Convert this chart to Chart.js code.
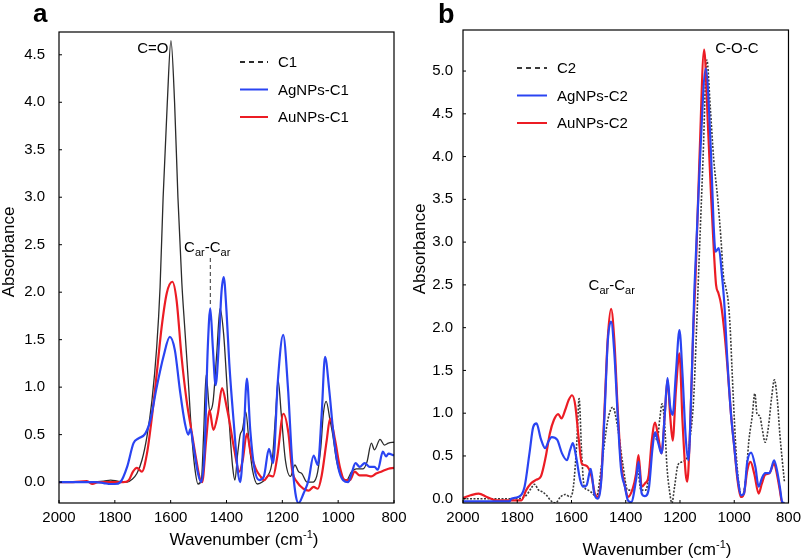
<!DOCTYPE html>
<html lang="en">
<head>
<meta charset="UTF-8">
<title>FTIR spectra</title>
<script src="https://cdn.jsdelivr.net/npm/chart.js@4.4.1/dist/chart.umd.min.js"></script>
<style>
    body { margin: 0; background: #fff; font-family: 'Liberation Sans', Arial, sans-serif; }
    .wrap { position: relative; width: 807px; height: 560px; overflow: hidden; }
    #chartA { position: absolute; left: 0; top: 0; }
    #chartB { position: absolute; left: 400px; top: 0; }
    .tag { position: absolute; font-weight: bold; line-height: 1; }
</style>
</head>
<body>
<div class="wrap">
    <canvas id="chartA" width="420" height="560"></canvas>
    <canvas id="chartB" width="407" height="560"></canvas>
    <div class="tag" style="left:33px; top:0px; font-size:26px;">a</div>
    <div class="tag" style="left:438px; top:1px; font-size:27px;">b</div>
</div>
<script>
// ---- data (wavenumber in cm-1, absorbance) ----
const waveTicks = [2000, 1800, 1600, 1400, 1200, 1000, 800];
const absTicksA = [0, 0.5, 1.0, 1.5, 2.0, 2.5, 3.0, 3.5, 4.0, 4.5];
const absTicksB = [0, 0.5, 1.0, 1.5, 2.0, 2.5, 3.0, 3.5, 4.0, 4.5, 5.0];

// panel a
const c1Wave = [2000,1900,1840,1815,1790,1756,1738,1721,1703,1685,1667,1650,1638,1627,1612,1599,1586,1574,1560,1549,1537,1526,1514,1502,1490,1482,1473,1460,1448,1435,1423,1410,1400,1390,1378,1370,1360,1351,1343,1331,1319,1307,1289,1272,1254,1236,1224,1215,1204,1189,1171,1155,1142,1130,1112,1094,1077,1062,1053,1043,1029,1020,1006,988,970,952,935,911,897,881,870,850,834,820,800];
const c1Abs  = [0,0,0.01,0.02,0.01,0,0.03,0.09,0.23,0.48,0.86,1.42,2.05,3.0,4.0,4.65,4.0,3.0,2.1,1.6,1.07,0.55,0.16,-0.02,0.02,0.5,1.13,0.75,0.85,1.35,1.83,1.55,1.1,0.62,0.16,0.02,0.3,0.5,0.55,0.74,0.41,0.13,-0.02,0,0.06,0.23,0.72,1.07,0.72,0.23,0.06,0.18,0.11,0.09,0,0,0.06,0.37,0.72,0.85,0.65,0.51,0.23,0.06,0.02,0.11,0.14,0.14,0.21,0.41,0.34,0.45,0.39,0.41,0.42];

const ag1Wave = [2000,1950,1900,1870,1840,1815,1800,1780,1756,1733,1715,1691,1673,1650,1626,1603,1585,1567,1549,1537,1529,1520,1502,1490,1478,1467,1458,1449,1439,1428,1418,1410,1400,1390,1372,1360,1351,1339,1327,1315,1301,1283,1266,1248,1233,1216,1197,1180,1165,1153,1142,1124,1106,1088,1073,1059,1047,1032,1017,1000,982,964,952,938,923,905,887,870,858,840,828,820,800];
const ag1Abs  = [0,0,0,0,-0.01,-0.02,-0.02,0,0.16,0.41,0.46,0.51,0.65,1.0,1.32,1.53,1.39,0.97,0.62,0.5,0.56,0.41,0.09,0,0.37,1.42,1.83,1.42,1.02,1.42,2.0,2.16,1.8,1.25,0.55,0.13,0,0.44,1.09,0.55,0.16,0.02,0.06,0.35,0.2,1.07,1.55,1.0,0.23,-0.12,-0.22,-0.12,0.02,0.28,0.18,0.72,1.32,0.97,0.51,0.16,0.02,0,0.09,0.2,0.16,0.2,0.16,0.16,0.13,0.32,0.27,0.3,0.28];

const au1Wave = [2000,1950,1900,1880,1860,1840,1800,1770,1750,1735,1721,1703,1685,1667,1650,1632,1614,1594,1579,1561,1543,1526,1508,1494,1487,1473,1461,1447,1431,1416,1400,1390,1372,1354,1342,1327,1313,1295,1278,1266,1248,1233,1218,1196,1178,1165,1147,1124,1106,1088,1073,1059,1041,1029,1011,994,976,958,941,923,899,881,864,846,820,800];
const au1Abs  = [0,0,0.01,-0.02,0,0,0,0,0.02,0.11,0.15,0.11,0.3,0.69,1.14,1.64,1.99,2.11,1.92,1.32,0.86,0.55,0.23,0.02,0,0.44,0.76,0.55,0.72,0.99,0.8,0.65,0.34,0.11,0.23,0.51,0.3,0.14,0.06,0.02,0.07,0.06,0.27,0.72,0.51,0.13,0,-0.07,-0.09,-0.05,-0.07,0.07,0.44,0.67,0.44,0.16,0.02,0.02,0.11,0.07,0.07,0.06,0.09,0.11,0.14,0.15];

// panel b
const c2Wave = [2000,1900,1800,1767,1749,1737,1721,1707,1692,1677,1659,1641,1623,1605,1593,1580,1572,1562,1553,1538,1522,1508,1490,1466,1448,1430,1411,1393,1374,1356,1344,1326,1308,1296,1284,1275,1266,1256,1248,1239,1230,1220,1208,1193,1181,1172,1163,1150,1140,1133,1115,1101,1088,1076,1061,1049,1040,1031,1022,1015,1008,1000,990,972,958,946,934,924,916,906,898,886,874,862,852,841,832,823,815];
const c2Abs  = [0,0,0,0.04,0.12,0.17,0.1,0.08,0.04,-0.02,-0.05,0.02,0.05,0.02,0.14,0.68,1.17,0.49,0.14,0.1,0.06,0.02,0.37,0.92,1.07,0.84,0.41,0.1,0.1,0.33,0.1,0.1,0.45,0.76,0.68,0.92,1.11,0.84,0.37,0.1,-0.05,0.14,0.39,0.43,0.45,0.5,0.7,1.15,1.9,2.5,3.98,5.13,4.56,3.98,3.51,3.04,2.61,2.47,2.3,2.0,1.5,0.95,0.4,0.02,0.22,0.68,0.96,1.23,0.99,0.97,0.84,0.66,0.84,1.19,1.39,1.15,0.76,0.45,0.2];

const ag2Wave = [2000,1950,1900,1860,1828,1822,1797,1773,1755,1741,1729,1713,1697,1685,1673,1653,1635,1617,1605,1595,1583,1568,1556,1544,1529,1516,1504,1490,1478,1466,1454,1442,1430,1418,1403,1392,1380,1362,1353,1341,1329,1314,1302,1292,1280,1268,1256,1246,1236,1227,1215,1202,1191,1179,1169,1157,1147,1126,1105,1085,1076,1069,1057,1045,1037,1025,1012,1000,988,974,964,952,938,922,910,898,886,870,853,841,832,823,815];
const ag2Abs  = [-0.03,-0.03,-0.03,-0.03,-0.03,0,0.02,0.14,0.53,0.84,0.88,0.7,0.59,0.67,0.72,0.69,0.53,0.45,0.57,0.65,0.49,0.22,0.14,0.16,0.35,0.06,0,0.22,0.99,1.85,2.07,1.7,0.99,0.37,0.14,-0.02,-0.04,0.22,0.43,0.06,0.03,0.14,0.57,0.78,0.65,0.53,0.99,1.41,1.07,0.98,1.47,1.97,1.47,0.72,0.45,1.39,2.44,3.98,5.03,3.98,3.2,2.89,2.93,2.6,2.3,1.6,0.99,0.61,0.26,0.04,0.06,0.43,0.54,0.37,0.14,0.24,0.3,0.3,0.45,0.31,0.14,-0.04,-0.05];

const au2Wave = [2000,1972,1942,1912,1876,1828,1785,1767,1749,1731,1713,1695,1680,1665,1649,1637,1623,1611,1598,1586,1574,1562,1548,1536,1526,1514,1502,1490,1478,1466,1454,1442,1430,1418,1400,1392,1374,1362,1353,1341,1329,1316,1304,1292,1280,1268,1256,1246,1236,1227,1215,1202,1191,1179,1173,1163,1151,1143,1128,1111,1097,1085,1075,1067,1058,1049,1037,1025,1012,1000,988,976,964,952,940,926,910,898,886,870,853,841,832,823,815];
const au2Abs  = [0.01,0.04,0.06,0.02,-0.02,-0.02,-0.02,0.1,0.18,0.22,0.26,0.49,0.76,0.92,0.99,0.94,1.04,1.15,1.21,1.09,0.72,0.41,0.39,0.35,0.26,0.06,0.02,0.26,1.07,1.89,2.22,1.85,1.07,0.45,0.1,0.02,0.12,0.29,0.51,0.14,0.18,0.26,0.68,0.89,0.72,0.53,0.99,1.39,0.96,0.68,1.27,1.7,0.92,0.29,0.2,0.8,1.97,2.56,4.0,5.25,4.37,3.51,2.89,2.5,2.4,2.28,1.97,1.54,0.99,0.61,0.22,0.02,0.06,0.33,0.43,0.29,0.06,0.18,0.28,0.3,0.41,0.26,0.1,-0.05,-0.05];

const BLUE = '#2a44f2';
const RED = '#ec1c24';
const FONT = "'Liberation Sans', Arial, sans-serif";

Chart.defaults.font.family = FONT;
Chart.defaults.color = '#000';

function pts(wave, abs) {
    return wave.map((w, i) => ({ x: w, y: abs[i] }));
}

// draws a run of [text, size, dy] pieces left to right
function drawRuns(ctx, parts, x, y) {
    parts.forEach(([t, size, dy]) => {
        ctx.font = size + 'px ' + FONT;
        ctx.fillText(t, x, y + dy);
        x += ctx.measureText(t).width;
    });
}
function runsWidth(ctx, parts) {
    let w = 0;
    parts.forEach(([t, size]) => { ctx.font = size + 'px ' + FONT; w += ctx.measureText(t).width; });
    return w;
}

const carParts = [['C', 15, 0], ['ar', 11, 4], ['-C', 15, 0], ['ar', 11, 4]];
const xTitleParts = [['Wavenumber (cm', 17, 0], ['-1', 11, -7], [')', 17, 0]];

// frame, inner ticks, axis titles, legend and peak labels
const decorPlugin = {
    id: 'decor',
    afterDraw(chart, args, opts) {
        const { ctx, chartArea: a, scales } = chart;
        const xs = scales.x, ys = scales.y;
        ctx.save();
        ctx.strokeStyle = '#000';
        ctx.lineWidth = 1.2;
        ctx.strokeRect(a.left, a.top, a.right - a.left, a.bottom - a.top);

        ctx.lineWidth = 1;
        xs.ticks.forEach(t => {
            const px = xs.getPixelForValue(t.value);
            ctx.beginPath(); ctx.moveTo(px, a.bottom); ctx.lineTo(px, a.bottom - 3); ctx.stroke();
        });
        ys.ticks.forEach(t => {
            const py = ys.getPixelForValue(t.value);
            ctx.beginPath(); ctx.moveTo(a.left, py); ctx.lineTo(a.left + 3, py); ctx.stroke();
        });

        ctx.fillStyle = '#000';

        // axis titles
        ctx.textAlign = 'left';
        ctx.textBaseline = 'alphabetic';
        const xt = opts.xTitle;
        drawRuns(ctx, xTitleParts, xt.cx - runsWidth(ctx, xTitleParts) / 2, xt.base);
        const yt = opts.yTitle;
        ctx.save();
        ctx.translate(yt.cx, yt.cy);
        ctx.rotate(-Math.PI / 2);
        ctx.font = '17px ' + FONT;
        ctx.textAlign = 'center';
        ctx.textBaseline = 'middle';
        ctx.fillText('Absorbance', 0, 0);
        ctx.restore();

        // legend
        const lg = opts.legend;
        ctx.textBaseline = 'middle';
        ctx.textAlign = 'left';
        chart.data.datasets.forEach((ds, i) => {
            const y = lg.y + i * lg.gap;
            ctx.strokeStyle = ds.borderColor;
            ctx.lineWidth = ds.legendWidth || 2;
            ctx.setLineDash(ds.legendDash || []);
            ctx.beginPath(); ctx.moveTo(lg.x, y); ctx.lineTo(lg.x + lg.len, y); ctx.stroke();
            ctx.setLineDash([]);
            ctx.font = '15px ' + FONT;
            ctx.fillText(ds.label, lg.x + lg.len + 10, y + 1);
        });

        // peak labels
        ctx.textBaseline = 'alphabetic';
        opts.notes.forEach(n => {
            const px = xs.getPixelForValue(n.wave);
            if (n.kind === 'text') {
                ctx.font = '15px ' + FONT;
                ctx.fillText(n.text, px, ys.getPixelForValue(n.abs));
            } else if (n.kind === 'car') {
                drawRuns(ctx, carParts, px, ys.getPixelForValue(n.abs));
            } else if (n.kind === 'vline') {
                ctx.strokeStyle = '#333';
                ctx.lineWidth = 1;
                ctx.setLineDash([4, 3]);
                ctx.beginPath();
                ctx.moveTo(px, ys.getPixelForValue(n.from));
                ctx.lineTo(px, ys.getPixelForValue(n.to));
                ctx.stroke();
                ctx.setLineDash([]);
            }
        });
        ctx.restore();
    }
};

function makePanel(canvasId, datasets, cfg) {
    return new Chart(document.getElementById(canvasId), {
        type: 'line',
        data: { datasets: datasets },
        options: {
            responsive: false,
            animation: false,
            events: [],
            layout: { padding: cfg.padding },
            elements: { point: { radius: 0 }, line: { cubicInterpolationMode: 'monotone' } },
            plugins: {
                legend: { display: false },
                tooltip: { enabled: false },
                decor: { legend: cfg.legend, notes: cfg.notes, xTitle: cfg.xTitle, yTitle: cfg.yTitle }
            },
            scales: {
                x: {
                    type: 'linear', reverse: true, min: 800, max: 2000,
                    afterBuildTicks: s => { s.ticks = waveTicks.map(v => ({ value: v })); },
                    afterFit: s => { s.height = 57; },
                    grid: { display: false, drawTicks: false },
                    border: { display: false },
                    ticks: { font: { size: 15 }, padding: 6, maxRotation: 0, autoSkip: false, callback: v => String(v) }
                },
                y: {
                    type: 'linear', min: cfg.yMin, max: cfg.yMax,
                    afterBuildTicks: s => { s.ticks = cfg.yTicks.map(v => ({ value: v })); },
                    afterFit: s => { s.width = cfg.yWidth; },
                    grid: { display: false, drawTicks: false },
                    border: { display: false },
                    ticks: { font: { size: 15 }, padding: cfg.yPad, autoSkip: false, callback: v => v.toFixed(1) }
                }
            }
        },
        plugins: [decorPlugin]
    });
}

makePanel('chartA', [
    { label: 'C1', data: pts(c1Wave, c1Abs), borderColor: '#2b2b2b', borderWidth: 1.3, order: 3, legendDash: [5, 4], legendWidth: 2 },
    { label: 'AgNPs-C1', data: pts(ag1Wave, ag1Abs), borderColor: BLUE, borderWidth: 2.2, order: 1 },
    { label: 'AuNPs-C1', data: pts(au1Wave, au1Abs), borderColor: RED, borderWidth: 2.2, order: 2 }
], {
    padding: { left: 0, top: 32, right: 26, bottom: 0 },
    yMin: -0.22, yMax: 4.74, yTicks: absTicksA, yWidth: 59, yPad: 14,
    xTitle: { cx: 244, base: 545 },
    yTitle: { cx: 9, cy: 252 },
    legend: { x: 240, y: 62, gap: 27.5, len: 28 },
    notes: [
        { kind: 'text', text: 'C=O', wave: 1720, abs: 4.52 },
        { kind: 'car', wave: 1552, abs: 2.42 },
        { kind: 'vline', wave: 1458, from: 2.36, to: 1.87 }
    ]
});

makePanel('chartB', [
    { label: 'C2', data: pts(c2Wave, c2Abs), borderColor: '#3a3a3a', borderWidth: 1.6, borderDash: [2, 1.5], order: 3, legendDash: [5, 4], legendWidth: 2 },
    { label: 'AgNPs-C2', data: pts(ag2Wave, ag2Abs), borderColor: BLUE, borderWidth: 2.2, order: 1 },
    { label: 'AuNPs-C2', data: pts(au2Wave, au2Abs), borderColor: RED, borderWidth: 2.2, order: 2 }
], {
    padding: { left: 0, top: 30, right: 16, bottom: 0 },
    yMin: -0.05, yMax: 5.48, yTicks: absTicksB, yWidth: 63, yPad: 10,
    xTitle: { cx: 257, base: 555 },
    yTitle: { cx: 20, cy: 249 },
    legend: { x: 117, y: 68, gap: 27.5, len: 30 },
    notes: [
        { kind: 'text', text: 'C-O-C', wave: 1070, abs: 5.21 },
        { kind: 'car', wave: 1537, abs: 2.44 }
    ]
});
</script>
</body>
</html>
